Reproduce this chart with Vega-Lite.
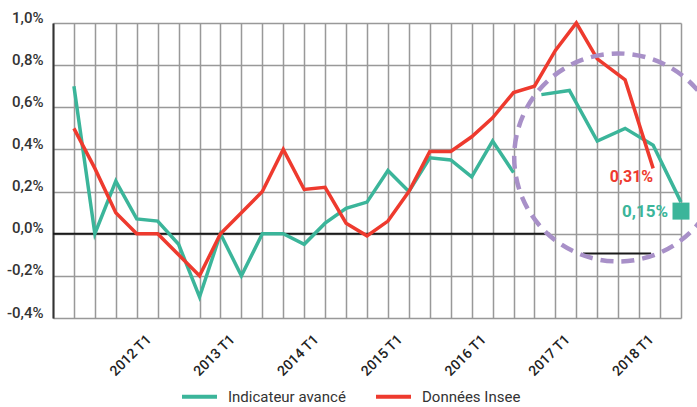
{
  "$schema": "https://vega.github.io/schema/vega-lite/v6.json",
  "width": 628,
  "height": 295,
  "autosize": {"type": "none"},
  "padding": {"left": 53, "top": 23, "right": 16, "bottom": 89},
  "background": "white",
  "config": {"view": {"stroke": null}, "font": "Roboto"},
  "datasets": {
    "lines": [
      {"t": 1, "v": 0.70, "series": "Indicateur avancé", "seg": "a"},
      {"t": 2, "v": 0.00, "series": "Indicateur avancé", "seg": "a"},
      {"t": 3, "v": 0.25, "series": "Indicateur avancé", "seg": "a"},
      {"t": 4, "v": 0.07, "series": "Indicateur avancé", "seg": "a"},
      {"t": 5, "v": 0.06, "series": "Indicateur avancé", "seg": "a"},
      {"t": 6, "v": -0.05, "series": "Indicateur avancé", "seg": "a"},
      {"t": 7, "v": -0.30, "series": "Indicateur avancé", "seg": "a"},
      {"t": 8, "v": 0.00, "series": "Indicateur avancé", "seg": "a"},
      {"t": 9, "v": -0.20, "series": "Indicateur avancé", "seg": "a"},
      {"t": 10, "v": 0.00, "series": "Indicateur avancé", "seg": "a"},
      {"t": 11, "v": 0.00, "series": "Indicateur avancé", "seg": "a"},
      {"t": 12, "v": -0.05, "series": "Indicateur avancé", "seg": "a"},
      {"t": 13, "v": 0.05, "series": "Indicateur avancé", "seg": "a"},
      {"t": 14, "v": 0.12, "series": "Indicateur avancé", "seg": "a"},
      {"t": 15, "v": 0.15, "series": "Indicateur avancé", "seg": "a"},
      {"t": 16, "v": 0.30, "series": "Indicateur avancé", "seg": "a"},
      {"t": 17, "v": 0.20, "series": "Indicateur avancé", "seg": "a"},
      {"t": 18, "v": 0.36, "series": "Indicateur avancé", "seg": "a"},
      {"t": 19, "v": 0.35, "series": "Indicateur avancé", "seg": "a"},
      {"t": 20, "v": 0.27, "series": "Indicateur avancé", "seg": "a"},
      {"t": 21, "v": 0.44, "series": "Indicateur avancé", "seg": "a"},
      {"t": 22, "v": 0.29, "series": "Indicateur avancé", "seg": "a"},
      {"t": 23.33, "v": 0.66, "series": "Indicateur avancé", "seg": "b"},
      {"t": 24.67, "v": 0.68, "series": "Indicateur avancé", "seg": "b"},
      {"t": 26, "v": 0.44, "series": "Indicateur avancé", "seg": "b"},
      {"t": 27.33, "v": 0.50, "series": "Indicateur avancé", "seg": "b"},
      {"t": 28.67, "v": 0.42, "series": "Indicateur avancé", "seg": "b"},
      {"t": 30, "v": 0.15, "series": "Indicateur avancé", "seg": "b"},
      {"t": 1, "v": 0.50, "series": "Données Insee", "seg": "c"},
      {"t": 2, "v": 0.31, "series": "Données Insee", "seg": "c"},
      {"t": 3, "v": 0.10, "series": "Données Insee", "seg": "c"},
      {"t": 4, "v": 0.00, "series": "Données Insee", "seg": "c"},
      {"t": 5, "v": 0.00, "series": "Données Insee", "seg": "c"},
      {"t": 6, "v": -0.10, "series": "Données Insee", "seg": "c"},
      {"t": 7, "v": -0.20, "series": "Données Insee", "seg": "c"},
      {"t": 8, "v": 0.00, "series": "Données Insee", "seg": "c"},
      {"t": 9, "v": 0.10, "series": "Données Insee", "seg": "c"},
      {"t": 10, "v": 0.20, "series": "Données Insee", "seg": "c"},
      {"t": 11, "v": 0.40, "series": "Données Insee", "seg": "c"},
      {"t": 12, "v": 0.21, "series": "Données Insee", "seg": "c"},
      {"t": 13, "v": 0.22, "series": "Données Insee", "seg": "c"},
      {"t": 14, "v": 0.05, "series": "Données Insee", "seg": "c"},
      {"t": 15, "v": -0.01, "series": "Données Insee", "seg": "c"},
      {"t": 16, "v": 0.06, "series": "Données Insee", "seg": "c"},
      {"t": 17, "v": 0.20, "series": "Données Insee", "seg": "c"},
      {"t": 18, "v": 0.39, "series": "Données Insee", "seg": "c"},
      {"t": 19, "v": 0.39, "series": "Données Insee", "seg": "c"},
      {"t": 20, "v": 0.46, "series": "Données Insee", "seg": "c"},
      {"t": 21, "v": 0.55, "series": "Données Insee", "seg": "c"},
      {"t": 22, "v": 0.67, "series": "Données Insee", "seg": "c"},
      {"t": 23, "v": 0.70, "series": "Données Insee", "seg": "c"},
      {"t": 24, "v": 0.87, "series": "Données Insee", "seg": "c"},
      {"t": 25, "v": 1.00, "series": "Données Insee", "seg": "c"},
      {"t": 26, "v": 0.83, "series": "Données Insee", "seg": "c"},
      {"t": 27.33, "v": 0.73, "series": "Données Insee", "seg": "c"},
      {"t": 28.67, "v": 0.31, "series": "Données Insee", "seg": "c"}
    ],
    "zeros": [
      {"t": 0, "t2": 23.75, "v": 0},
      {"t": 25.32, "t2": 28.57, "v": -0.094}
    ]
  },
  "layer": [
    {
      "data": {"name": "zeros"},
      "mark": {"type": "rule", "color": "#1a1a1a", "strokeWidth": 2},
      "encoding": {
        "x": {"field": "t", "type": "quantitative", "scale": {"domain": [0, 30], "nice": false, "zero": false},
          "axis": {
            "values": [0,1,2,3,4,5,6,7,8,9,10,11,12,13,14,15,16,17,18,19,20,21,22,23,24,25,26,27,28,29,30],
            "tickCount": 40,
            "grid": true, "gridColor": "#999999", "gridWidth": 1.5,
            "domain": false, "ticks": false, "title": null,
            "labelExpr": "datum.value % 4 == 0 && datum.value > 0 ? (2011 + datum.value / 4) + ' T1' : ''",
            "labelAngle": -45, "labelFontSize": 14, "labelColor": "#222222", "labelFont": "Roboto",
            "labelFontWeight": 500, "labelPadding": 14, "labelOverlap": false, "labelOffset": 7
          }},
        "x2": {"field": "t2"},
        "y": {"field": "v", "type": "quantitative", "scale": {"domain": [-0.4, 1.0], "nice": false, "zero": false},
          "axis": {
            "values": [-0.4, -0.2, 0, 0.2, 0.4, 0.6, 0.8, 1.0],
            "tickCount": 20,
            "grid": true, "gridColor": "#999999", "gridWidth": 1.5,
            "domain": true, "domainColor": "#333333", "domainWidth": 2,
            "ticks": false, "title": null, "labelPadding": 10, "labelBaseline": "alphabetic", "labelOffset": -1,
            "labelFontSize": 15, "labelFontWeight": 500, "labelColor": "#333333", "labelFont": "Roboto",
            "labelExpr": "(datum.value < -0.001 ? '-' : '') + replace(format(abs(datum.value), '.1f'), '.', ',') + '%'"
          }}
      }
    },
    {
      "data": {"name": "lines"},
      "mark": {"type": "line", "strokeWidth": 3.5, "strokeJoin": "miter"},
      "encoding": {
        "x": {"field": "t", "type": "quantitative"},
        "y": {"field": "v", "type": "quantitative"},
        "detail": {"field": "seg"},
        "color": {"field": "series", "type": "nominal",
          "scale": {"domain": ["Indicateur avancé", "Données Insee"], "range": ["#3bb59a", "#ee3a2e"]},
          "legend": {"orient": "none", "legendX": 127, "legendY": 354, "direction": "horizontal", "title": null,
            "symbolType": "stroke", "symbolSize": 1225, "symbolStrokeWidth": 4,
            "labelFontSize": 15, "labelColor": "#333333", "labelFont": "Roboto", "labelOffset": 9,
            "columnPadding": 22, "labelLimit": 300}}
      }
    },
    {
      "data": {"values": [{"t": 27.0, "v": 0.362}]},
      "mark": {"type": "point", "shape": "circle", "size": 43264, "filled": false, "stroke": "#a890c8",
        "strokeWidth": 4.5, "strokeDash": [13, 8], "opacity": 1},
      "encoding": {
        "x": {"field": "t", "type": "quantitative"},
        "y": {"field": "v", "type": "quantitative"}
      }
    },
    {
      "data": {"values": [{"t": 28.67, "v": 0.31, "label": "0,31%"}]},
      "mark": {"type": "text", "align": "right", "baseline": "top", "dy": 1, "fontSize": 16, "fontWeight": "bold",
        "font": "Roboto", "color": "#ee3a2e"},
      "encoding": {
        "x": {"field": "t", "type": "quantitative"},
        "y": {"field": "v", "type": "quantitative"},
        "text": {"field": "label"}
      }
    },
    {
      "data": {"values": [{"t": 30, "v": 0.15, "label": "0,15%"}]},
      "mark": {"type": "text", "align": "right", "baseline": "middle", "dx": -13, "dy": 10, "fontSize": 17,
        "fontWeight": "bold", "font": "Roboto", "color": "#3bb59a"},
      "encoding": {
        "x": {"field": "t", "type": "quantitative"},
        "y": {"field": "v", "type": "quantitative"},
        "text": {"field": "label"}
      }
    },
    {
      "data": {"values": [{"t": 30, "v": 0.15}]},
      "mark": {"type": "point", "shape": "square", "filled": true, "size": 289, "color": "#3bb59a", "opacity": 1, "yOffset": 9},
      "encoding": {
        "x": {"field": "t", "type": "quantitative"},
        "y": {"field": "v", "type": "quantitative"}
      }
    }
  ]
}
